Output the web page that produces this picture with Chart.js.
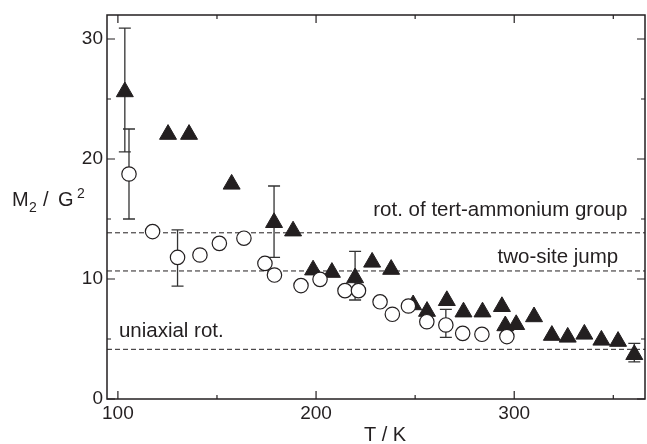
<!DOCTYPE html>
<html><head><meta charset="utf-8">
<script src="https://cdn.jsdelivr.net/npm/chart.js@4/dist/chart.umd.min.js"></script>
<style>html,body{margin:0;padding:0;background:#fff}#wrap{width:647px;height:444px}</style>
</head><body><div id="wrap"><canvas id="c" width="647" height="444"></canvas></div>
<script>
// ---- data ----
const triT  = [103.5,125.3,135.9,157.4,178.8,188.4,198.5,208,219.7,228.3,237.9,249,256,266,274.4,284,293.8,295.5,301,310,319,327,335.4,344,352.4,360.6];
const triM2 = [25.6,22.05,22.05,17.9,14.7,14.0,10.75,10.55,10.1,11.4,10.8,7.85,7.3,8.2,7.25,7.25,7.7,6.1,6.2,6.85,5.3,5.15,5.4,4.9,4.8,3.7];
const circT  = [105.6,117.5,130.1,141.4,151.2,163.6,174.2,179,192.4,202,214.6,221.4,232.3,238.5,246.6,255.9,265.5,274,283.7,296.3];
const circM2 = [18.75,13.95,11.8,12.0,12.97,13.4,11.3,10.33,9.45,9.97,9.03,9.03,8.1,7.06,7.75,6.44,6.17,5.47,5.39,5.2];
const triErrT  = [103.5,178.8,219.7,360.6];
const triErrLo = [20.6,11.8,8.25,3.1];
const triErrHi = [30.9,17.75,12.3,4.64];
const circErrT  = [105.6,130.1,265.5];
const circErrLo = [15.0,9.4,5.14];
const circErrHi = [22.5,14.1,7.47];
const refLevels = [13.85, 10.67, 4.14];
const refLabels = ['rot. of tert-ammonium group','two-site jump','uniaxial rot.'];
const xTickVals = [100,200,300];
const xMinorVals = [150,250,350];
const yTickVals = [0,10,20,30];
const yMinorVals = [5,15,25];
const X_MIN = 94.5, X_MAX = 366, Y_MIN = 0, Y_MAX = 32;

const INK = '#231f20';
const FONT = "'Liberation Sans', Arial, Helvetica, sans-serif";

const pts = (xs, ys) => xs.map((x,i)=>({x, y: ys[i]}));

const datasets = [];
refLevels.forEach((v)=>{
  datasets.push({type:'line', data:[{x:X_MIN,y:v},{x:X_MAX,y:v}], borderColor:INK, borderWidth:1,
    borderDash:[5,3], pointRadius:0, order:3});
});
datasets.push({type:'scatter', data:pts(triT,triM2), pointStyle:'triangle', pointRadius:9.8,
  backgroundColor:INK, borderColor:INK, borderWidth:1, order:2});
datasets.push({type:'scatter', data:pts(circT,circM2), pointStyle:'circle', pointRadius:7.2,
  backgroundColor:'#ffffff', borderColor:INK, borderWidth:1.2, order:1});

const errorBars = {
  id:'errorBars',
  beforeDatasetsDraw(chart){
    const {ctx, scales:{x,y}} = chart;
    ctx.save();
    ctx.strokeStyle = '#333'; ctx.lineWidth = 1.3;
    const draw = (ts, lo, hi) => ts.forEach((t,i)=>{
      const px = x.getPixelForValue(t), p1 = y.getPixelForValue(lo[i]), p2 = y.getPixelForValue(hi[i]);
      ctx.beginPath();
      ctx.moveTo(px,p1); ctx.lineTo(px,p2);
      ctx.moveTo(px-6,p1); ctx.lineTo(px+6,p1);
      ctx.moveTo(px-6,p2); ctx.lineTo(px+6,p2);
      ctx.stroke();
    });
    draw(triErrT, triErrLo, triErrHi);
    draw(circErrT, circErrLo, circErrHi);
    ctx.restore();
  }
};

const frame = {
  id:'frame',
  afterDraw(chart){
    const {ctx, chartArea:a, scales:{x,y}} = chart;
    ctx.save();
    ctx.strokeStyle = INK; ctx.lineWidth = 1.5;
    ctx.strokeRect(a.left, a.top, a.right-a.left, a.bottom-a.top);
    ctx.lineWidth = 1.2;
    ctx.beginPath();
    [...xTickVals.map(v=>[v,8]), ...xMinorVals.map(v=>[v,4])].forEach(([v,len])=>{
      const px = x.getPixelForValue(v);
      ctx.moveTo(px,a.bottom); ctx.lineTo(px,a.bottom-len);
      ctx.moveTo(px,a.top); ctx.lineTo(px,a.top+len);
    });
    [...yTickVals.map(v=>[v,8]), ...yMinorVals.map(v=>[v,4])].forEach(([v,len])=>{
      const py = y.getPixelForValue(v);
      ctx.moveTo(a.left,py); ctx.lineTo(a.left+len,py);
      ctx.moveTo(a.right,py); ctx.lineTo(a.right-len,py);
    });
    ctx.stroke();

    // annotations of the reference levels
    ctx.fillStyle = INK;
    ctx.font = '20.5px ' + FONT;
    ctx.textBaseline = 'alphabetic';
    ctx.textAlign = 'right';
    ctx.fillText(refLabels[0], x.getPixelForValue(357.1), y.getPixelForValue(15.25));
    ctx.fillText(refLabels[1], x.getPixelForValue(352.5), y.getPixelForValue(11.36));
    ctx.textAlign = 'left';
    ctx.fillText(refLabels[2], x.getPixelForValue(100.5), y.getPixelForValue(5.17));

    // axis titles
    ctx.textAlign = 'center';
    ctx.font = '20px ' + FONT;
    ctx.fillText('T / K', 385, 441);

    ctx.textAlign = 'left';
    const base = 206;
    ctx.font = '20px ' + FONT; ctx.fillText('M', 12, base);
    ctx.font = '14px ' + FONT; ctx.fillText('2', 29, base+6);
    ctx.font = '20px ' + FONT; ctx.fillText('/', 43, base);
    ctx.fillText('G', 58, base);
    ctx.font = '14px ' + FONT; ctx.fillText('2', 77, base-8);
    ctx.restore();
  }
};

new Chart(document.getElementById('c'), {
  type:'scatter',
  data:{datasets},
  options:{
    responsive:false, animation:false, devicePixelRatio:1,
    layout:{autoPadding:false, padding:{top:15,right:2,left:0,bottom:0}},
    plugins:{legend:{display:false}, tooltip:{enabled:false}},
    scales:{
      x:{type:'linear', min:X_MIN, max:X_MAX,
        grid:{display:false, drawTicks:false}, border:{display:false},
        ticks:{padding:3, color:INK, font:{size:19, family:FONT}},
        afterBuildTicks:s=>{s.ticks = xTickVals.map(v=>({value:v}));},
        afterFit:s=>{s.height = 45; s.paddingLeft = 0; s.paddingRight = 0;}},
      y:{type:'linear', min:Y_MIN, max:Y_MAX,
        grid:{display:false, drawTicks:false}, border:{display:false},
        ticks:{padding:4, color:INK, font:{size:19, family:FONT}},
        afterBuildTicks:s=>{s.ticks = yTickVals.map(v=>({value:v}));},
        afterFit:s=>{s.width = 107; s.paddingTop = 0; s.paddingBottom = 0;}}
    }
  },
  plugins:[errorBars, frame]
});
</script>
</body></html>
